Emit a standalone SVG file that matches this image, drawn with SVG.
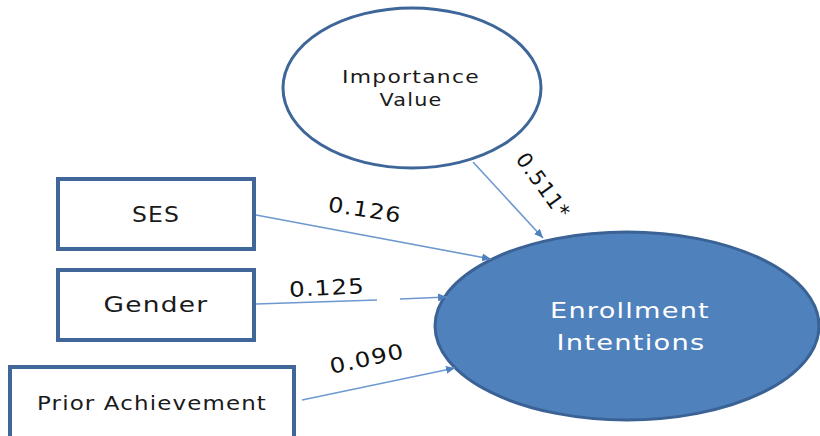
<svg xmlns="http://www.w3.org/2000/svg" width="820" height="436" viewBox="0 0 820 436">
<style>
.box{fill:#ffffff;stroke:#41679a;stroke-width:4}
.oval{fill:#ffffff;stroke:#3e6699;stroke-width:3}
.dep{fill:#4f81bd;stroke:#3a6295;stroke-width:3}
.lbl{font-family:"DejaVu Sans","Liberation Sans",sans-serif;fill:#1a1a1a;text-anchor:middle;letter-spacing:1px}
.wt{font-family:"DejaVu Sans","Liberation Sans",sans-serif;fill:#ffffff;text-anchor:middle;letter-spacing:1px}
.conn{fill:none;stroke:#6d99d0;stroke-width:1.6}
.num{font-family:"DejaVu Sans","Liberation Sans",sans-serif;fill:#111111;font-size:21px;text-anchor:middle;letter-spacing:1px}
</style>
<defs>
<marker id="ah" markerUnits="userSpaceOnUse" markerWidth="10" markerHeight="10" refX="9" refY="5" orient="auto">
<path d="M0,1 L9,5 L0,9 Z" fill="#4f81bd"/>
</marker>
</defs>
<rect width="820" height="436" fill="#ffffff"/>
<g id="importance-value">
<ellipse class="oval" cx="412" cy="88" rx="129" ry="80"/>
<text class="lbl" x="411" y="83" font-size="17" textLength="138" lengthAdjust="spacingAndGlyphs">Importance</text>
<text class="lbl" x="411" y="106" font-size="17" textLength="63" lengthAdjust="spacingAndGlyphs">Value</text>
</g>
<g id="ses">
<rect class="box" x="58" y="179" width="196" height="70"/>
<text class="lbl" x="156" y="222" font-size="21" textLength="48" lengthAdjust="spacingAndGlyphs">SES</text>
</g>
<g id="gender">
<rect class="box" x="58" y="270" width="196" height="70"/>
<text class="lbl" x="156" y="312" font-size="21" textLength="105" lengthAdjust="spacingAndGlyphs">Gender</text>
</g>
<g id="prior-achievement">
<rect class="box" x="10" y="367" width="284" height="90"/>
<text class="lbl" x="152" y="410" font-size="20" textLength="230" lengthAdjust="spacingAndGlyphs">Prior Achievement</text>
</g>
<g id="enrollment-intentions">
<ellipse class="dep" cx="627" cy="326" rx="192" ry="94"/>
<text class="wt" x="630" y="318" font-size="22" textLength="160" lengthAdjust="spacingAndGlyphs">Enrollment</text>
<text class="wt" x="631" y="350" font-size="22" textLength="149" lengthAdjust="spacingAndGlyphs">Intentions</text>
</g>
<g id="connectors">
<path class="conn" d="M473,162 L543,238" marker-end="url(#ah)"/>
<path class="conn" d="M256,215 L491,259" marker-end="url(#ah)"/>
<path class="conn" d="M256,304 L377,300 M400,299 L447,297" marker-end="url(#ah)"/>
<path class="conn" d="M302,400 L455,368" marker-end="url(#ah)"/>
<text class="num" transform="translate(543,186) rotate(54)" y="7" textLength="76" lengthAdjust="spacingAndGlyphs">0.511*</text>
<text class="num" transform="translate(365,210) rotate(9)" y="7" textLength="74" lengthAdjust="spacingAndGlyphs">0.126</text>
<text class="num" transform="translate(327,288) rotate(-3)" y="7" textLength="76" lengthAdjust="spacingAndGlyphs">0.125</text>
<text class="num" transform="translate(367,359) rotate(-12.5)" y="7" textLength="76" lengthAdjust="spacingAndGlyphs">0.090</text>
</g>
</svg>
